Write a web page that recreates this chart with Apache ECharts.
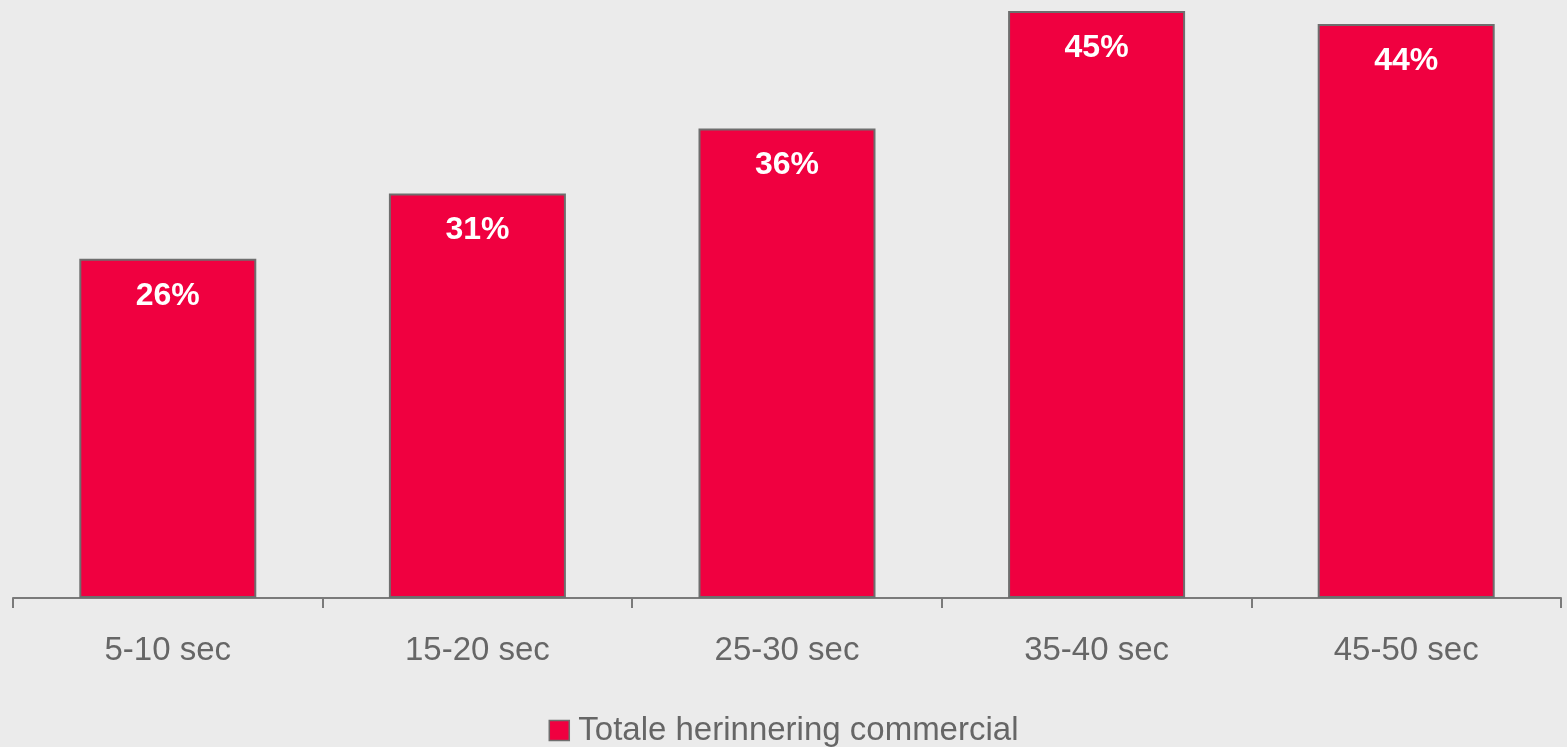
<!DOCTYPE html>
<html>
<head>
<meta charset="utf-8">
<script src="https://cdn.jsdelivr.net/npm/echarts@6/dist/echarts.min.js"></script>
<style>
  html, body { margin: 0; padding: 0; background: #ebebeb; }
  #chart { width: 1567px; height: 747px; }
</style>
</head>
<body>
<div id="chart"></div>
<script>
// categorieën en waarden
var categories = ["5-10 sec", "15-20 sec", "25-30 sec", "35-40 sec", "45-50 sec"];
var herinnering = [26, 31, 36, 45, 44];
var seriesName = "Totale herinnering commercial";

var myChart = echarts.init(document.getElementById("chart"));
var option = {
  backgroundColor: "#ebebeb",
  animation: false,
  grid: { left: 13, right: 6, top: 11, bottom: 149 },
  legend: {
    top: 709,
    left: "center",
    icon: "rect",
    itemWidth: 20,
    itemHeight: 20,
    itemGap: 10,
    itemStyle: { borderColor: "#6e6e6e", borderWidth: 1.5 },
    textStyle: { fontFamily: "Liberation Sans", fontSize: 33, color: "#666666", padding: [0, 0, 0, 4] },
    data: [seriesName]
  },
  xAxis: {
    type: "category",
    data: categories,
    axisLine: { lineStyle: { color: "#7a7a7a", width: 2 } },
    axisTick: { show: true, length: 10, lineStyle: { color: "#7a7a7a", width: 2 } },
    axisLabel: { margin: 36, fontFamily: "Liberation Sans", fontSize: 33, color: "#666666" }
  },
  yAxis: {
    type: "value",
    min: 0,
    max: 45,
    show: false,
    splitLine: { show: false }
  },
  series: [{
    name: seriesName,
    type: "bar",
    data: herinnering,
    barWidth: 177,
    itemStyle: { color: "#f00040", borderColor: "#6e6e6e", borderWidth: 2 },
    label: {
      show: true,
      position: "insideTop",
      distance: 21,
      formatter: "{c}%",
      fontFamily: "Liberation Sans",
      fontWeight: "bold",
      fontSize: 32,
      color: "#ffffff"
    }
  }]
};
myChart.setOption(option);
</script>
</body>
</html>
